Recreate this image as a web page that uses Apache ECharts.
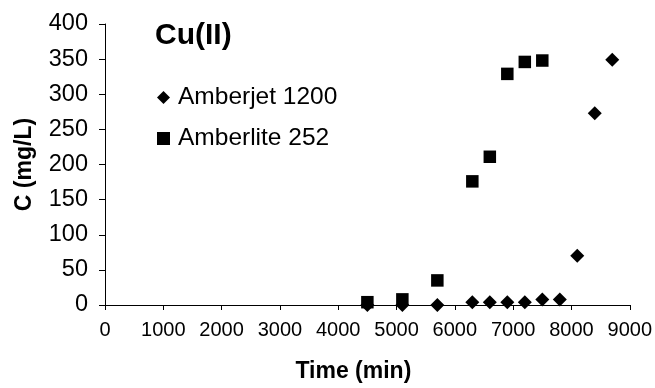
<!DOCTYPE html>
<html>
<head>
<meta charset="utf-8">
<script src="https://cdn.jsdelivr.net/npm/echarts@6/dist/echarts.min.js"></script>
<style>
html,body{margin:0;padding:0;background:#fff;}
#chart{width:655px;height:388px;}
</style>
</head>
<body>
<div id="chart"></div>
<script>
var titleText = 'Cu(II)';
var xName = 'Time (min)';
var yName = 'C (mg/L)';
var seriesNames = ['Amberjet 1200', 'Amberlite 252'];
var timeAmberjet = [4500, 5100, 5700, 6300, 6600, 6900, 7200, 7500, 7800, 8100, 8400, 8700];
var cAmberjet = [0, 0, 0, 4, 4, 4, 4, 8, 8, 70, 273, 349];
var timeAmberlite = [4500, 5100, 5700, 6300, 6600, 6900, 7200, 7500];
var cAmberlite = [4, 8, 35, 176, 211, 329, 346, 348];

function pairs(xs, ys) { return xs.map(function (x, i) { return [x, ys[i]]; }); }

var FONT = '"Liberation Sans", Arial, Helvetica, sans-serif';
var chart = echarts.init(document.getElementById('chart'));
chart.setOption({
  animation: false,
  backgroundColor: '#ffffff',
  textStyle: { fontFamily: FONT, color: '#000' },
  title: {
    text: titleText, left: 150, top: 16,
    textStyle: { fontFamily: FONT, fontSize: 30, fontWeight: 'bold', color: '#000' }
  },
  legend: {
    orient: 'vertical', left: 152, top: 80, itemGap: 16,
    itemWidth: 13, itemHeight: 13,
    data: [
      { name: seriesNames[0], icon: 'diamond' },
      { name: seriesNames[1], icon: 'rect' }
    ],
    textStyle: { fontFamily: FONT, fontSize: 24.5, color: '#000', padding: [0, 0, 0, 3] }
  },
  grid: { left: 105, right: 23, top: 24, bottom: 83 },
  xAxis: {
    type: 'value', min: 0, max: 9000, interval: 1000,
    name: xName, nameLocation: 'middle', nameGap: 55,
    nameTextStyle: { fontFamily: FONT, fontSize: 23, fontWeight: 'bold', color: '#000', padding: [0, 28, 0, 0] },
    axisLine: { onZero: false, lineStyle: { color: '#000', width: 1 } },
    axisTick: { show: true, inside: false, length: 5, lineStyle: { color: '#000' } },
    axisLabel: { fontFamily: FONT, fontSize: 20, color: '#000', margin: 15,
      formatter: function (v) { return String(v); } },
    splitLine: { show: false }
  },
  yAxis: {
    type: 'value', min: 0, max: 400, interval: 50,
    name: yName, nameLocation: 'middle', nameGap: 69,
    nameTextStyle: { fontFamily: FONT, fontSize: 23, fontWeight: 'bold', color: '#000' },
    axisLine: { show: true, lineStyle: { color: '#000', width: 1 } },
    axisTick: { show: true, inside: false, length: 6, lineStyle: { color: '#000' } },
    axisLabel: { fontFamily: FONT, fontSize: 23.5, color: '#000', margin: 17 },
    splitLine: { show: false }
  },
  series: [
    {
      name: seriesNames[0], type: 'scatter', symbol: 'diamond', symbolSize: 14,
      itemStyle: { color: '#000', opacity: 1 }, data: pairs(timeAmberjet, cAmberjet), z: 2
    },
    {
      name: seriesNames[1], type: 'scatter', symbol: 'rect', symbolSize: 12.5,
      itemStyle: { color: '#000', opacity: 1 }, data: pairs(timeAmberlite, cAmberlite), z: 3
    }
  ]
});
</script>
</body>
</html>
